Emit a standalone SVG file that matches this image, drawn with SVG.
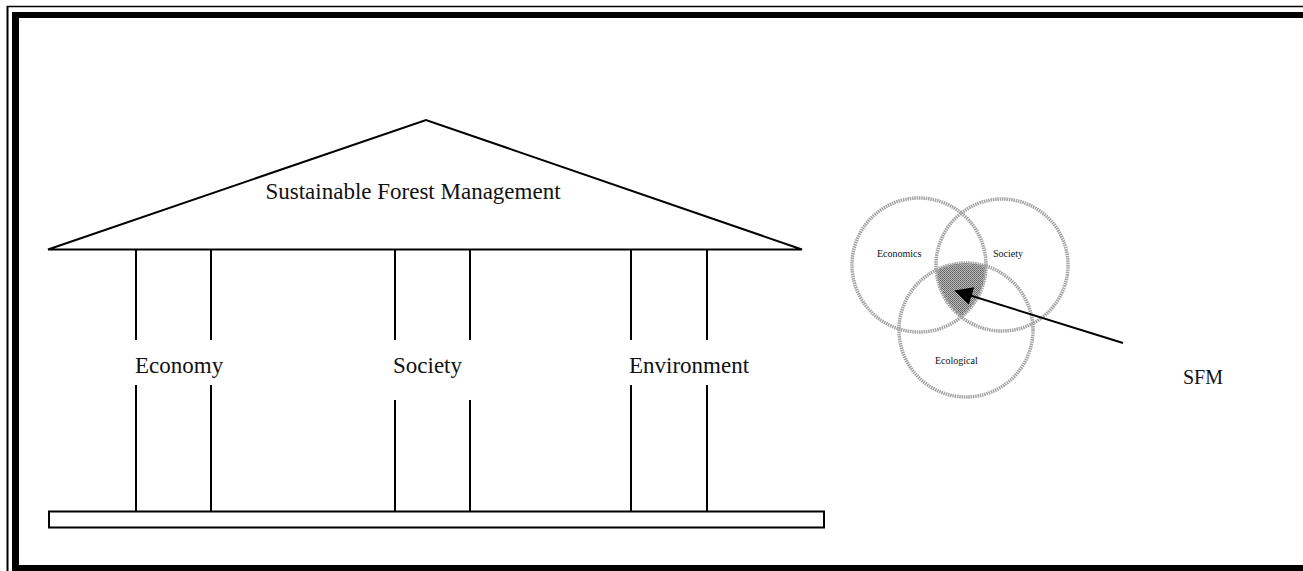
<svg xmlns="http://www.w3.org/2000/svg" width="1303" height="571" viewBox="0 0 1303 571">
  <style>
    .ln { stroke: #000; stroke-width: 2; fill: none; }
    .lbl { font-family: "Liberation Serif", "Times New Roman", serif; font-size: 23px; fill: #111; }
    .small { font-family: "Liberation Serif", "Times New Roman", serif; font-size: 10px; fill: #111; }
    .ring { fill: none; stroke: #a3a3a3; stroke-width: 3.5; stroke-dasharray: 1.5 0.8; }
  </style>
  <defs>
    <marker id="head" viewBox="0 0 10 10" refX="9" refY="5" markerWidth="10" markerHeight="9" markerUnits="strokeWidth" orient="auto">
      <path d="M0,0 L10,5 L0,10 z" fill="#000"/>
    </marker>
    <clipPath id="clipEcon"><circle cx="919" cy="265" r="67"/></clipPath>
    <clipPath id="clipSoc"><circle cx="1002" cy="265" r="66"/></clipPath>
    <pattern id="stipple" width="2" height="2" patternUnits="userSpaceOnUse">
      <rect width="2" height="2" fill="#bdbdbd"/>
      <rect width="1" height="1" fill="#5f5f5f"/>
      <rect x="1" y="1" width="1" height="1" fill="#707070"/>
    </pattern>
  </defs>

  <rect width="1303" height="571" fill="#fff"/>

  <!-- page frame -->
  <g id="frame">
    <line x1="7.5" y1="6" x2="7.5" y2="571" stroke="#000" stroke-width="2"/>
    <line x1="7" y1="6.5" x2="1303" y2="6.5" stroke="#000" stroke-width="1.5"/>
    <rect x="12" y="12" width="7" height="559" fill="#000"/>
    <rect x="12" y="12" width="1291" height="6" fill="#000"/>
    <rect x="12" y="565" width="1291" height="6" fill="#000"/>
  </g>

  <!-- house: roof, pillars and base -->
  <g id="roof">
    <polygon class="ln" points="48,249.5 426,120 802,249.5" stroke-linejoin="miter"/>
    <text class="lbl" x="413" y="199" text-anchor="middle">Sustainable Forest Management</text>
  </g>

  <g id="pillar-economy">
    <line class="ln" x1="136" y1="250" x2="136" y2="340"/>
    <line class="ln" x1="211" y1="250" x2="211" y2="340"/>
    <line class="ln" x1="136" y1="385" x2="136" y2="511"/>
    <line class="ln" x1="211" y1="385" x2="211" y2="511"/>
    <text class="lbl" x="135" y="373">Economy</text>
  </g>

  <g id="pillar-society">
    <line class="ln" x1="395" y1="250" x2="395" y2="340"/>
    <line class="ln" x1="470" y1="250" x2="470" y2="340"/>
    <line class="ln" x1="395" y1="400" x2="395" y2="511"/>
    <line class="ln" x1="470" y1="400" x2="470" y2="511"/>
    <text class="lbl" x="393" y="373">Society</text>
  </g>

  <g id="pillar-environment">
    <line class="ln" x1="631" y1="250" x2="631" y2="340"/>
    <line class="ln" x1="707" y1="250" x2="707" y2="340"/>
    <line class="ln" x1="631" y1="385" x2="631" y2="511"/>
    <line class="ln" x1="707" y1="385" x2="707" y2="511"/>
    <text class="lbl" x="629" y="373">Environment</text>
  </g>

  <g id="base">
    <rect class="ln" x="49" y="511.5" width="775" height="16"/>
  </g>

  <!-- Venn diagram of the three spheres -->
  <g id="overlap">
    <g clip-path="url(#clipEcon)">
      <circle cx="966" cy="330" r="67" fill="url(#stipple)" clip-path="url(#clipSoc)"/>
    </g>
  </g>
  <g id="circle-economics">
    <circle class="ring" cx="919" cy="265" r="67"/>
    <text class="small" x="877" y="257">Economics</text>
  </g>
  <g id="circle-society">
    <circle class="ring" cx="1002" cy="265" r="66"/>
    <text class="small" x="993" y="257">Society</text>
  </g>
  <g id="circle-ecological">
    <circle class="ring" cx="966" cy="330" r="67"/>
    <text class="small" x="935" y="364">Ecological</text>
  </g>

  <g id="connectors">
    <line x1="1123" y1="343" x2="956" y2="291" stroke="#000" stroke-width="2" marker-end="url(#head)"/>
  </g>

  <g id="sfm-label">
    <text class="lbl" x="1183" y="384" style="font-size:20px">SFM</text>
  </g>
</svg>
